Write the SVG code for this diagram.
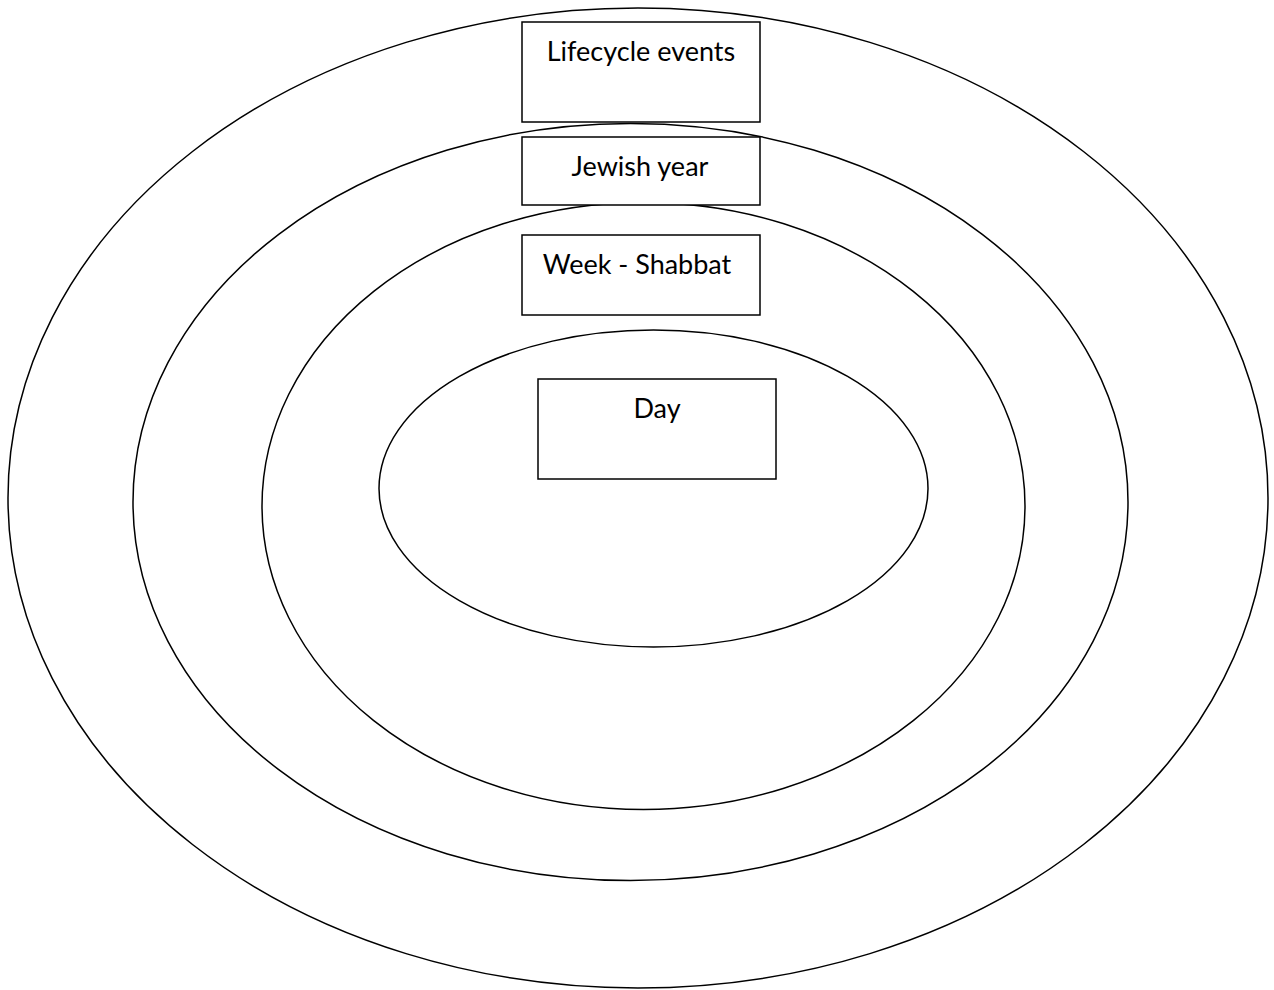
<svg xmlns="http://www.w3.org/2000/svg" width="1274" height="990" viewBox="0 0 1274 990">
<style>
.ring{fill:none;stroke:#000;stroke-width:1.5}
.box{fill:#fff;stroke:#000;stroke-width:1.5}
.lbl{font-family:Lato,"Liberation Sans",sans-serif;font-size:27px;fill:#000;text-anchor:middle}
</style>
<rect width="1274" height="990" fill="#fff"/>
<g id="rings">
<ellipse id="ring-lifecycle" class="ring" cx="638" cy="498" rx="630" ry="490"/>
<ellipse id="ring-year" class="ring" cx="630.5" cy="502" rx="497.5" ry="378.5"/>
<ellipse id="ring-week" class="ring" cx="643.5" cy="506" rx="381.5" ry="303.5"/>
<ellipse id="ring-day" class="ring" cx="653.5" cy="488.5" rx="274.5" ry="158.5"/>
</g>
<g id="connectors"></g>
<g id="node-lifecycle">
<rect class="box" x="522" y="22" width="238" height="100"/>
<text class="lbl" x="641" y="61">Lifecycle events</text>
</g>
<g id="node-year">
<rect class="box" x="522" y="137" width="238" height="68"/>
<text class="lbl" x="640" y="176">Jewish year</text>
</g>
<g id="node-week">
<rect class="box" x="522" y="235" width="238" height="80"/>
<text class="lbl" x="637" y="274">Week - Shabbat</text>
</g>
<g id="node-day">
<rect class="box" x="538" y="379" width="238" height="100"/>
<text class="lbl" x="657" y="418">Day</text>
</g>
</svg>
